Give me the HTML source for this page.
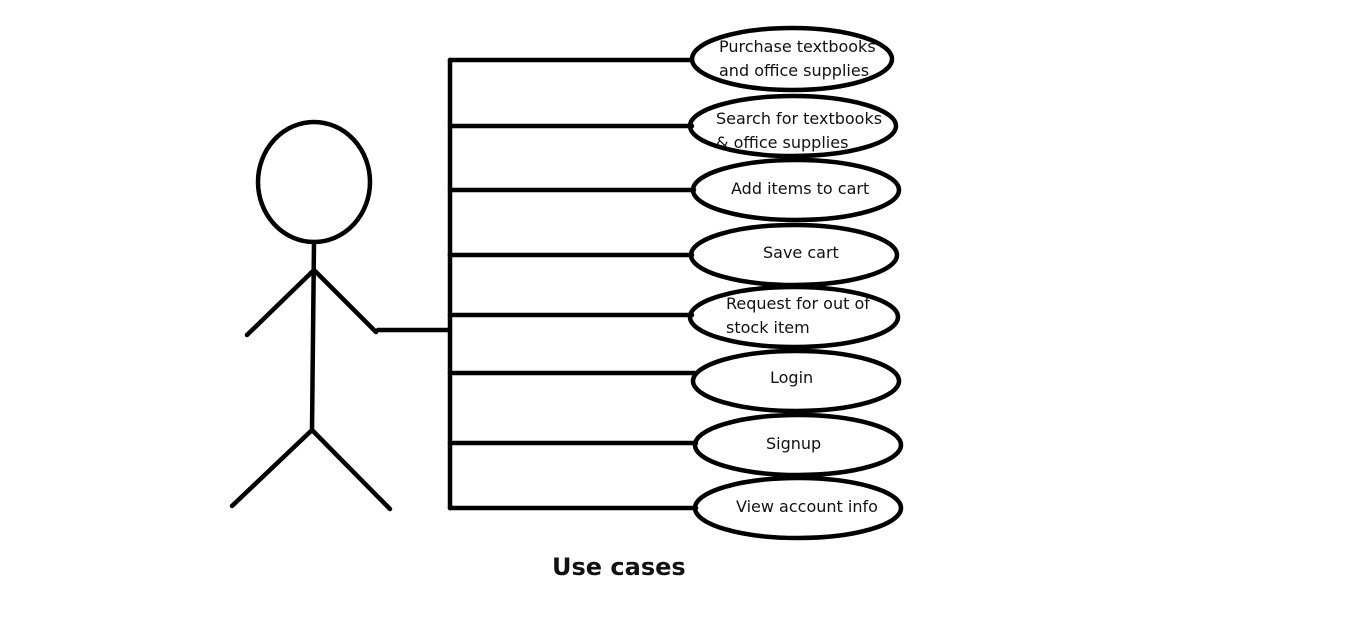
<!DOCTYPE html>
<html><head><style>body{margin:0;background:#fff}svg{display:block}text{font-family:"DejaVu Sans","Liberation Sans",sans-serif;font-size:16px;fill:#111}</style></head><body>
<svg width="1350" height="629" viewBox="0 0 1350 629" xmlns="http://www.w3.org/2000/svg">
<g stroke="#000" stroke-width="4.5" fill="none" stroke-linecap="round">
<ellipse cx="314" cy="182" rx="56" ry="60"/>
<line x1="314" y1="242" x2="312" y2="430"/>
<line x1="314" y1="270" x2="247" y2="335"/>
<line x1="314" y1="270" x2="376" y2="332"/>
<line x1="312" y1="430" x2="232" y2="506"/>
<line x1="312" y1="430" x2="390" y2="509"/>
<line x1="378" y1="330" x2="450" y2="330"/>
<line x1="450" y1="60" x2="450" y2="508"/>
<line x1="450" y1="60" x2="692" y2="60"/>
<line x1="450" y1="126" x2="692" y2="126"/>
<line x1="450" y1="190" x2="694" y2="190"/>
<line x1="450" y1="255" x2="692" y2="255"/>
<line x1="450" y1="315" x2="692" y2="315"/>
<line x1="450" y1="373" x2="694" y2="373"/>
<line x1="450" y1="443" x2="696" y2="443"/>
<line x1="450" y1="508" x2="696" y2="508"/>
<ellipse cx="792" cy="59" rx="100" ry="31"/>
<ellipse cx="793" cy="126" rx="103" ry="30"/>
<ellipse cx="796" cy="190" rx="103" ry="30"/>
<ellipse cx="794" cy="255" rx="103" ry="30"/>
<ellipse cx="794" cy="317" rx="104" ry="30"/>
<ellipse cx="796" cy="381" rx="103" ry="30"/>
<ellipse cx="798" cy="445" rx="103" ry="30"/>
<ellipse cx="798" cy="508" rx="103" ry="30"/>
</g>
<text x="719" y="52">Purchase textbooks</text>
<text x="719" y="76">and office supplies</text>
<text x="716" y="124">Search for textbooks</text>
<text x="716" y="148">&amp; office supplies</text>
<text x="731" y="194">Add items to cart</text>
<text x="763" y="258">Save cart</text>
<text x="726" y="309">Request for out of</text>
<text x="726" y="333">stock item</text>
<text x="770" y="383">Login</text>
<text x="766" y="449">Signup</text>
<text x="736" y="512">View account info</text>
<text x="552" y="575" style="font-size:24px;font-weight:bold">Use cases</text>
</svg>
</body></html>
